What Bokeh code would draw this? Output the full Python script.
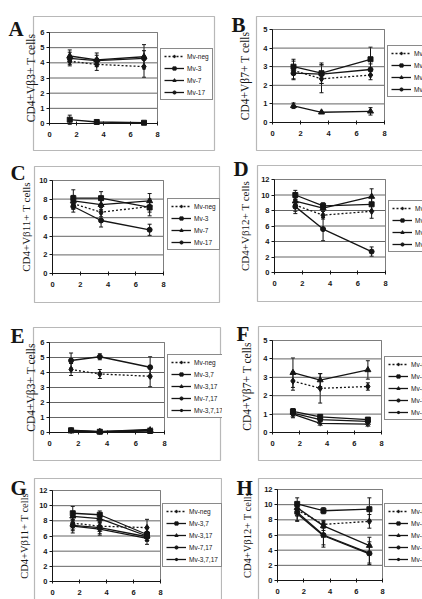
from bokeh.embed import file_html
from bokeh.layouts import column, row
from bokeh.models import (BoxAnnotation, ColumnDataSource, FixedTicker, Label,
                          Legend, LegendItem, Range1d, TeeHead, Whisker)
from bokeh.plotting import figure
from bokeh.resources import INLINE

# ---------------------------------------------------------------- data
weeks = [1.5, 3.5, 7]
x_ticks = [0, 2, 4, 6, 8]

single_groups = ["Mv-neg", "Mv-3", "Mv-7", "Mv-17"]
combo_groups = ["Mv-neg", "Mv-3,7", "Mv-3,17", "Mv-7,17", "Mv-3,7,17"]

# A: CD4+ Vbeta3+ cells, single-provirus mice (rows follow single_groups)
a_mean = [[4.1, 3.9, 3.75], [0.25, 0.1, 0.05], [4.45, 4.2, 4.4], [4.3, 4.15, 4.3]]
a_sd = [[0.3, 0.4, 0.7], [0.3, 0.05, 0.03], [0.4, 0.45, 0.8], [0.4, 0.35, 0.5]]

# B: CD4+ Vbeta7+
b_mean = [[2.8, 2.35, 2.55], [3.0, 2.65, 3.4], [0.9, 0.55, 0.6], [2.65, 2.6, 2.85]]
b_sd = [[0.5, 0.75, 0.25], [0.4, 0.55, 0.65], [0.15, 0.05, 0.2], [0.3, 0.5, 0.3]]

# C: CD4+ Vbeta11+
c_mean = [[7.5, 6.6, 7.2], [8.1, 8.1, 7.1], [7.8, 7.4, 7.8], [7.2, 5.7, 4.7]]
c_sd = [[0.6, 0.5, 0.6], [0.9, 0.7, 0.9], [0.6, 0.5, 0.8], [0.6, 0.7, 0.6]]

# D: CD4+ Vbeta12+
d_mean = [[8.7, 7.4, 7.9], [10.0, 8.6, 8.8], [9.2, 8.3, 9.8], [8.5, 5.6, 2.7]]
d_sd = [[0.8, 0.5, 0.9], [0.6, 0.4, 0.9], [0.6, 0.4, 1.0], [0.9, 1.5, 0.6]]

# E: CD4+ Vbeta3+, multi-provirus mice (rows follow combo_groups)
e_mean = [[4.2, 3.9, 3.75], [0.15, 0.05, 0.1], [0.1, 0.05, 0.15],
          [4.8, 5.05, 4.35], [0.1, 0.05, 0.2]]
e_sd = [[0.4, 0.3, 0.7], [0.05, 0.03, 0.05], [0.05, 0.03, 0.05],
        [0.5, 0.2, 0.7], [0.05, 0.03, 0.05]]

# F: CD4+ Vbeta7+
f_mean = [[2.8, 2.4, 2.5], [1.15, 0.85, 0.7], [3.25, 2.85, 3.4],
          [1.05, 0.7, 0.6], [1.0, 0.5, 0.45]]
f_sd = [[0.5, 0.8, 0.2], [0.15, 0.1, 0.1], [0.8, 0.35, 0.5],
        [0.2, 0.1, 0.1], [0.2, 0.1, 0.1]]

# G: CD4+ Vbeta11+
g_mean = [[7.7, 7.3, 7.1], [9.0, 8.8, 6.2], [8.6, 8.3, 6.0],
          [7.4, 7.1, 5.9], [7.3, 6.9, 5.7]]
g_sd = [[0.8, 0.7, 1.1], [0.9, 0.5, 0.8], [0.6, 0.5, 0.6],
        [0.7, 0.8, 0.6], [0.9, 0.8, 0.8]]

# H: CD4+ Vbeta12+
h_mean = [[9.3, 7.4, 7.8], [10.1, 9.2, 9.4], [9.6, 7.2, 4.6],
          [9.0, 6.0, 3.6], [8.8, 5.9, 3.5]]
h_sd = [[0.8, 0.5, 0.9], [0.8, 0.4, 1.5], [0.6, 0.6, 1.1],
        [1.1, 1.6, 1.5], [1.0, 1.2, 1.2]]

# ---------------------------------------------------------------- style
INK = "#151515"
SERIES_STYLE = {
    "Mv-neg": dict(marker="diamond", size=6.5, dash="2 2"),
    "Mv-3": dict(marker="square", size=5, dash="solid"),
    "Mv-7": dict(marker="triangle", size=6, dash="solid"),
    "Mv-17": dict(marker="circle", size=5, dash="solid"),
    "Mv-3,7": dict(marker="square", size=5, dash="solid"),
    "Mv-3,17": dict(marker="triangle", size=6, dash="solid"),
    "Mv-7,17": dict(marker="circle", size=5, dash="solid"),
    "Mv-3,7,17": dict(marker="asterisk", size=6, dash="solid"),
}

LEFT_W, RIGHT_W = 222, 200
ROW_H = [152, 164, 152, 131]

# cell size, plot box (l, t, r, b), outer box (l, t, r, b),
# letter (x, baseline), legend (left, bottom) -- all in cell pixels, y down;
# gap = standoff between y tick labels and the axis title, fs = its font size
PANELS = [
    dict(letter="A", ylabel="CD4+V\u03b23+ T cells", ymax=6, ystep=1, groups=single_groups,
         mean=a_mean, sd=a_sd, cell=(LEFT_W, ROW_H[0]), plot=(49, 32, 157, 123),
         outer=(33, 16, 214, 150), tag=(8, 28), legend=(160, 100), gap=0, fs="11.5px"),
    dict(letter="B", ylabel="CD4+V\u03b27+ T cells", ymax=5, ystep=1, groups=single_groups,
         mean=b_mean, sd=b_sd, cell=(RIGHT_W, ROW_H[0]), plot=(50, 29, 162, 122),
         outer=(34, 16, 240, 150), tag=(9, 24), legend=(165, 97), gap=9, fs="11.5px"),
    dict(letter="C", ylabel="CD4+V\u03b211+ T cells", ymax=10, ystep=2, groups=single_groups,
         mean=c_mean, sd=c_sd, cell=(LEFT_W, ROW_H[1]), plot=(52, 28, 163, 121),
         outer=(34, 14, 219, 150), tag=(10, 20), legend=(167, 98), gap=4, fs="11px"),
    dict(letter="D", ylabel="CD4+V\u03b212+ T cells", ymax=12, ystep=2, groups=single_groups,
         mean=d_mean, sd=d_sd, cell=(RIGHT_W, ROW_H[1]), plot=(52, 27, 163, 120),
         outer=(35, 13, 240, 149), tag=(11, 16), legend=(166, 100), gap=7, fs="11px"),
    dict(letter="E", ylabel="CD4+V\u03b23+ T cells", ymax=6, ystep=1, groups=combo_groups,
         mean=e_mean, sd=e_sd, cell=(LEFT_W, ROW_H[2]), plot=(49, 26, 164, 116),
         outer=(33, 11, 220, 144), tag=(10, 19), legend=(167, 102), gap=0, fs="11.5px"),
    dict(letter="F", ylabel="CD4+V\u03b27+ T cells", ymax=5, ystep=1, groups=combo_groups,
         mean=f_mean, sd=f_sd, cell=(RIGHT_W, ROW_H[2]), plot=(50, 24, 159, 116),
         outer=(36, 10, 240, 144), tag=(14, 17), legend=(162, 104), gap=7, fs="11.5px"),
    dict(letter="G", ylabel="CD4+V\u03b211+ T cells", ymax=12, ystep=2, groups=combo_groups,
         mean=g_mean, sd=g_sd, cell=(LEFT_W, ROW_H[3]), plot=(52, 22, 160, 113),
         outer=(34, 10, 221, 160), tag=(10, 19), legend=(162, 99), gap=6, fs="10.5px"),
    dict(letter="H", ylabel="CD4+V\u03b212+ T cells", ymax=12, ystep=2, groups=combo_groups,
         mean=h_mean, sd=h_sd, cell=(RIGHT_W, ROW_H[3]), plot=(55, 21, 160, 112),
         outer=(36, 10, 240, 160), tag=(14, 19), legend=(162, 99), gap=8, fs="10.5px"),
]


def make_panel(spec):
    w, h = spec["cell"]
    l, t, r, b = spec["plot"]
    ymax, ystep = spec["ymax"], spec["ystep"]
    y_ticks = list(range(0, ymax + 1, ystep))

    # The frame fills the whole cell; ranges are stretched so that the
    # 0..8 x 0..ymax plot area lands on the (l, t, r, b) box.
    x_range = Range1d(-8 * l / (r - l), 8 * (w - l) / (r - l))
    y_range = Range1d(-ymax * (h - b) / (b - t), ymax * b / (b - t))

    p = figure(width=w, height=h, x_range=x_range, y_range=y_range, title=None,
               min_border=0, output_backend="svg", toolbar_location=None, tools="")
    p.background_fill_color = "white"
    p.border_fill_color = "white"
    p.outline_line_color = None
    p.grid.visible = False

    # outer panel frame and panel letter
    ol, ot, orr, ob = spec["outer"]
    p.add_layout(BoxAnnotation(left=ol, right=orr, top=h - ot, bottom=h - ob,
                               left_units="screen", right_units="screen",
                               top_units="screen", bottom_units="screen",
                               fill_color=None, line_color=INK, line_width=1.2,
                               level="underlay"))
    tx, ty = spec["tag"]
    p.add_layout(Label(x=tx, y=h - ty, x_units="screen", y_units="screen",
                       text=spec["letter"], text_font="Liberation Serif",
                       text_font_style="bold", text_font_size="21px",
                       text_color=INK, text_baseline="alphabetic"))

    # plot area: horizontal grid at each y tick, grey border
    p.segment(x0=0, x1=8, y0=y_ticks, y1=y_ticks, line_color="#3c3c3c", line_width=0.8)
    p.quad(left=0, right=8, bottom=0, top=ymax, fill_color=None,
           line_color="#7d7d7d", line_width=1)

    # axes pinned to the plot-area origin
    p.xaxis.fixed_location = 0
    p.yaxis.fixed_location = 0
    p.xaxis.bounds = (0, 8)
    p.yaxis.bounds = (0, ymax)
    p.xaxis.ticker = FixedTicker(ticks=x_ticks)
    p.yaxis.ticker = FixedTicker(ticks=y_ticks)
    for ax in (p.xaxis[0], p.yaxis[0]):
        ax.axis_line_color = INK
        ax.axis_line_width = 1
        ax.major_tick_line_color = INK
        ax.minor_tick_line_color = None
        ax.major_label_text_font = "Liberation Sans"
        ax.major_label_text_font_style = "bold"
        ax.major_label_text_font_size = "7.5px"
        ax.major_label_text_color = INK
    p.xaxis.major_tick_in = 2
    p.xaxis.major_tick_out = 2
    p.xaxis.major_label_standoff = 6
    p.yaxis.major_tick_in = 0
    p.yaxis.major_tick_out = 3
    p.yaxis.major_label_standoff = 2
    yax = p.yaxis[0]
    yax.axis_label = spec["ylabel"]
    yax.axis_label_text_font = "Liberation Serif"
    yax.axis_label_text_font_style = "normal"
    yax.axis_label_text_font_size = spec["fs"]
    yax.axis_label_text_color = INK
    yax.axis_label_standoff = spec["gap"]
    if "axis_label_background_fill_color" in yax.properties():
        yax.axis_label_background_fill_color = "white"

    items = []
    for name, mean, sd in zip(spec["groups"], spec["mean"], spec["sd"]):
        st = SERIES_STYLE[name]
        src = ColumnDataSource(dict(
            x=weeks, y=mean,
            lower=[m - s for m, s in zip(mean, sd)],
            upper=[m + s for m, s in zip(mean, sd)],
        ))
        p.add_layout(Whisker(base="x", lower="lower", upper="upper", source=src,
                             line_color=INK, line_width=1,
                             lower_head=TeeHead(size=4, line_color=INK, line_width=1),
                             upper_head=TeeHead(size=4, line_color=INK, line_width=1)))
        ln = p.line("x", "y", source=src, line_color=INK, line_width=1.3,
                    line_dash=st["dash"])
        sc = p.scatter("x", "y", source=src, marker=st["marker"], size=st["size"],
                       fill_color=INK, line_color=INK, line_width=1)
        items.append(LegendItem(label=name, renderers=[ln, sc]))

    lx, lb = spec["legend"]
    legend = Legend(items=items, location=(lx, h - lb), margin=0, padding=3,
                    spacing=4, glyph_width=20, glyph_height=8, label_height=8,
                    label_standoff=3, label_text_font="Liberation Sans",
                    label_text_font_size="6.5px", label_text_color=INK,
                    border_line_color=INK, border_line_width=1,
                    background_fill_color="white", background_fill_alpha=1)
    p.add_layout(legend)
    return p


figs = [make_panel(s) for s in PANELS]
layout = column(
    row(figs[0], figs[1], spacing=0),
    row(figs[2], figs[3], spacing=0),
    row(figs[4], figs[5], spacing=0),
    row(figs[6], figs[7], spacing=0),
    spacing=0,
)

with open("out.html", "w") as fh:
    fh.write(file_html(layout, INLINE, title="CD4+ V\u03b2 T cells"))
